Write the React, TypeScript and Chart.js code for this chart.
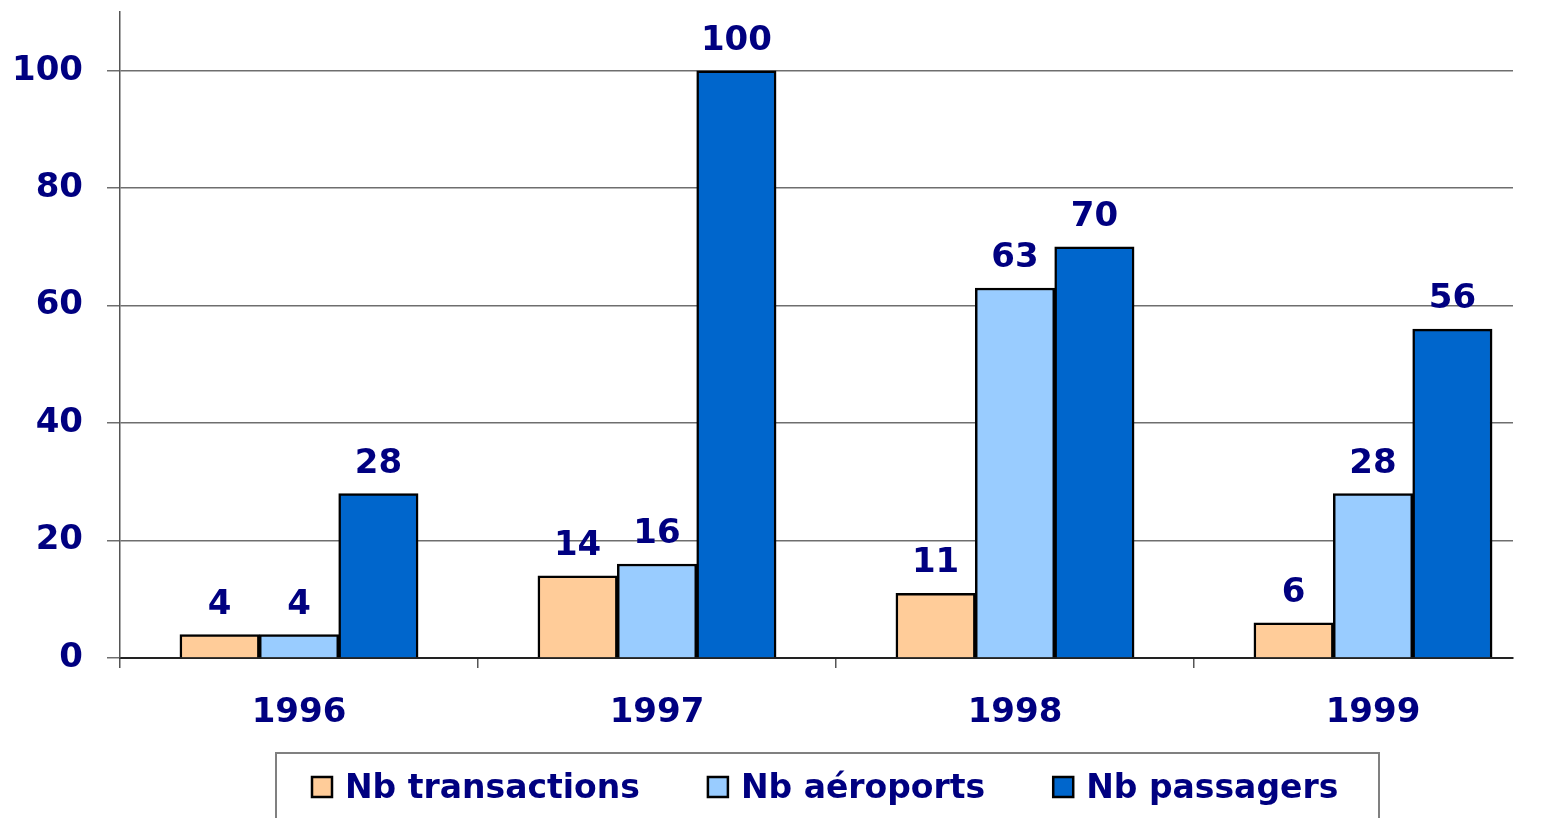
import React, { useEffect, useRef } from 'react';
import { Chart, registerables } from 'chart.js';

Chart.register(...registerables);

const years = ['1996', '1997', '1998', '1999'];
const transactions = [4, 14, 11, 6];
const aeroports = [4, 16, 63, 28];
const passagers = [28, 100, 70, 56];
const seriesLabels = ['Nb transactions', 'Nb aéroports', 'Nb passagers'];
const seriesColors = ['#FFCC99', '#99CCFF', '#0066CC'];
const yTicks = [0, 20, 40, 60, 80, 100];

const NAVY = '#000080';
const FONT_FAMILY = '"DejaVu Sans", sans-serif';

const valueLabels = {
  id: 'valueLabels',
  afterDatasetsDraw(chart: any) {
    const ctx = chart.ctx;
    ctx.save();
    ctx.fillStyle = NAVY;
    ctx.font = `bold 34px ${FONT_FAMILY}`;
    ctx.textAlign = 'center';
    ctx.textBaseline = 'alphabetic';
    chart.data.datasets.forEach((ds: any, di: number) => {
      const meta = chart.getDatasetMeta(di);
      meta.data.forEach((el: any, i: number) => {
        const v = ds.data[i].y;
        ctx.fillText(String(v), el.x, el.y - 21);
      });
    });
    ctx.restore();
  },
};

const boxedLegend = {
  id: 'boxedLegend',
  afterDraw(chart: any) {
    const ctx = chart.ctx;
    ctx.save();
    ctx.strokeStyle = '#808080';
    ctx.lineWidth = 2;
    ctx.strokeRect(276, 753, 1103, 100);
    ctx.font = `bold 33px ${FONT_FAMILY}`;
    ctx.textBaseline = 'alphabetic';
    ctx.textAlign = 'left';
    let x = 312;
    chart.data.datasets.forEach((ds: any) => {
      ctx.fillStyle = ds.backgroundColor;
      ctx.fillRect(x, 777, 20, 20);
      ctx.strokeStyle = '#000';
      ctx.lineWidth = 2.5;
      ctx.strokeRect(x, 777, 20, 20);
      ctx.fillStyle = NAVY;
      ctx.fillText(ds.label, x + 33, 798);
      const w = ctx.measureText(ds.label).width;
      x = x + 33 + w + 68;
    });
    ctx.restore();
  },
};

export default function App() {
  const ref = useRef<HTMLCanvasElement>(null);

  useEffect(() => {
    if (!ref.current) return;
    const series = [transactions, aeroports, passagers];
    const font = { family: FONT_FAMILY, size: 34, weight: 'bold' as const };
    const chart = new Chart(ref.current, {
      type: 'bar',
      data: {
        datasets: series.map((vals, si) => ({
          label: seriesLabels[si],
          data: vals.map((v, i) => ({ x: i, y: v })),
          backgroundColor: seriesColors[si],
          borderColor: '#000000',
          borderWidth: 2.5,
          barThickness: 79.4,
        })),
      },
      options: {
        responsive: false,
        animation: false,
        devicePixelRatio: 1,
        layout: { padding: { top: 12, right: 30, left: 0, bottom: 0 } },
        plugins: {
          legend: { display: false },
          tooltip: { enabled: false },
        },
        scales: {
          x: {
            type: 'linear',
            min: -0.5,
            max: -0.5 + 1393 / 358,
            offset: false,
            afterBuildTicks: (s: any) => {
              s.ticks = years.flatMap((_, i) => [{ value: i - 0.5 }, { value: i }]);
            },
            afterFit: (s: any) => {
              s.height = 160;
              s.paddingLeft = 0;
              s.paddingRight = 0;
              s.paddingTop = 0;
              s.paddingBottom = 0;
            },
            grid: {
              offset: false,
              drawOnChartArea: false,
              drawTicks: true,
              tickLength: 10,
              lineWidth: 1.5,
              color: (c: any) =>
                c.tick && Number.isInteger(c.tick.value) ? 'rgba(0,0,0,0)' : '#555555',
            },
            border: { display: true, color: '#222222', width: 2 },
            ticks: {
              autoSkip: false,
              maxRotation: 0,
              minRotation: 0,
              padding: 25,
              color: NAVY,
              font,
              callback: (v: any) => (Number.isInteger(v) ? years[v] : ''),
            },
          },
          y: {
            min: 0,
            max: 110,
            afterBuildTicks: (s: any) => {
              s.ticks = yTicks.map((v) => ({ value: v }));
            },
            afterFit: (s: any) => {
              s.width = 120;
              s.paddingLeft = 0;
              s.paddingRight = 0;
              s.paddingTop = 0;
              s.paddingBottom = 0;
            },
            grid: {
              color: '#6e6e6e',
              lineWidth: 1.5,
              drawTicks: true,
              tickLength: 13,
            },
            border: { display: true, color: '#555555', width: 1.5 },
            ticks: {
              padding: 24,
              color: NAVY,
              font,
            },
          },
        },
      } as any,
      plugins: [valueLabels, boxedLegend],
    });
    return () => chart.destroy();
  }, []);

  return (
    <canvas
      ref={ref}
      width={1543}
      height={818}
      style={{ position: 'fixed', left: 0, top: 0, width: '1543px', height: '818px', background: '#fff' }}
    />
  );
}
